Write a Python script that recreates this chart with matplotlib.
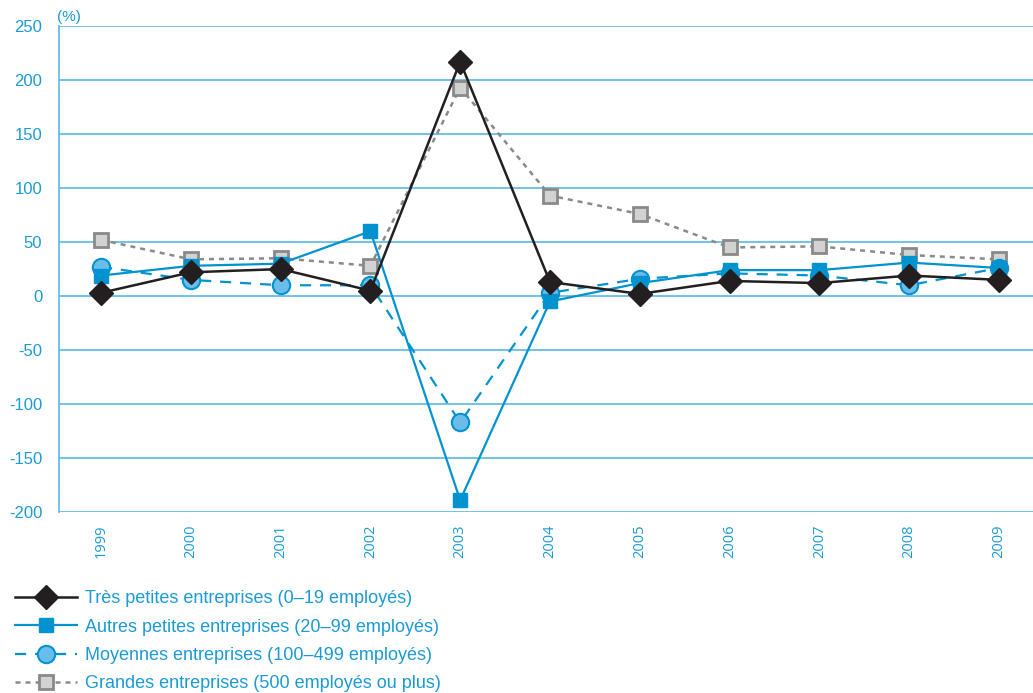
import matplotlib.pyplot as plt
from matplotlib.lines import Line2D

# variation annuelle (%) par taille d'entreprise
years = [1999, 2000, 2001, 2002, 2003, 2004, 2005, 2006, 2007, 2008, 2009]
tres_petites = [3, 22, 25, 5, 217, 13, 2, 14, 12, 19, 15]
autres_petites = [19, 28, 30, 60, -189, -5, 12, 24, 24, 31, 26]
moyennes = [27, 15, 10, 10, -117, 3, 16, 21, 19, 10, 26]
grandes = [52, 34, 35, 28, 193, 93, 76, 45, 46, 38, 34]

labels = ["Très petites entreprises (0–19 employés)",
          "Autres petites entreprises (20–99 employés)",
          "Moyennes entreprises (100–499 employés)",
          "Grandes entreprises (500 employés ou plus)"]

BLUE = "#0093d0"
TXT = "#1a9ad6"
GRID = "#66bde6"

plt.rcParams['font.family'] = ['Liberation Sans', 'DejaVu Sans']
plt.rcParams['axes.unicode_minus'] = False

fig = plt.figure(figsize=(10.33, 6.93), dpi=100)
ax = fig.add_axes([0.057, 0.261, 0.943, 0.7015])

ax.plot(years, grandes, color="#8a8a8a", lw=1.8, ls=(0, (2, 2)),
        marker="s", ms=10.5, mfc="#d2d2d2", mec="#8a8a8a", mew=2, zorder=3)
ax.plot(years, moyennes, color=BLUE, lw=1.6, ls=(0, (5, 4)),
        marker="o", ms=12.5, mfc="#6abde8", mec=BLUE, mew=1.5, zorder=4)
ax.plot(years, autres_petites, color=BLUE, lw=1.6,
        marker="s", ms=10, mfc=BLUE, mec=BLUE, zorder=5)
ax.plot(years, tres_petites, color="#231f20", lw=1.8,
        marker="D", ms=12, mfc="#231f20", mec="#231f20", zorder=6)

ax.set_xlim(1998.53, 2009.38)
ax.set_ylim(-200, 250)
ax.set_yticks(range(-200, 251, 50))
ax.set_xticks(years)
ax.set_xticklabels([str(y) for y in years], rotation=90,
                   fontfamily="Open Sans", fontsize=10.5, color=TXT)
ax.tick_params(axis="y", length=0, pad=12, labelsize=12, labelcolor=TXT)
ax.tick_params(axis="x", length=0, pad=9)
ax.grid(axis="y", color=GRID, lw=1.3)
ax.set_axisbelow(True)
for s in ["top", "right", "bottom"]:
    ax.spines[s].set_visible(False)
ax.spines["left"].set_color(GRID)
ax.spines["left"].set_linewidth(1.3)

fig.text(0.055, 0.976, "(%)", color=TXT, fontsize=11, va="center", ha="left")

handles = [
    Line2D([], [], color="#231f20", lw=1.8, marker="D", ms=12, mfc="#231f20", mec="#231f20"),
    Line2D([], [], color=BLUE, lw=1.6, marker="s", ms=10, mfc=BLUE, mec=BLUE),
    Line2D([], [], color=BLUE, lw=1.6, ls=(0, (5, 4)), marker="o", ms=12.5, mfc="#6abde8", mec=BLUE, mew=1.5),
    Line2D([], [], color="#8a8a8a", lw=1.8, ls=(0, (2, 2)), marker="s", ms=10.5, mfc="#d2d2d2", mec="#8a8a8a", mew=2),
]
leg = fig.legend(handles, labels, loc="upper left", bbox_to_anchor=(0.015, 0.148),
                 frameon=False, fontsize=13, handlelength=3.4, handletextpad=0.45,
                 labelspacing=0.62, borderpad=0, borderaxespad=0)
for t in leg.get_texts():
    t.set_color(TXT)

fig.savefig("out.png", dpi=100)
